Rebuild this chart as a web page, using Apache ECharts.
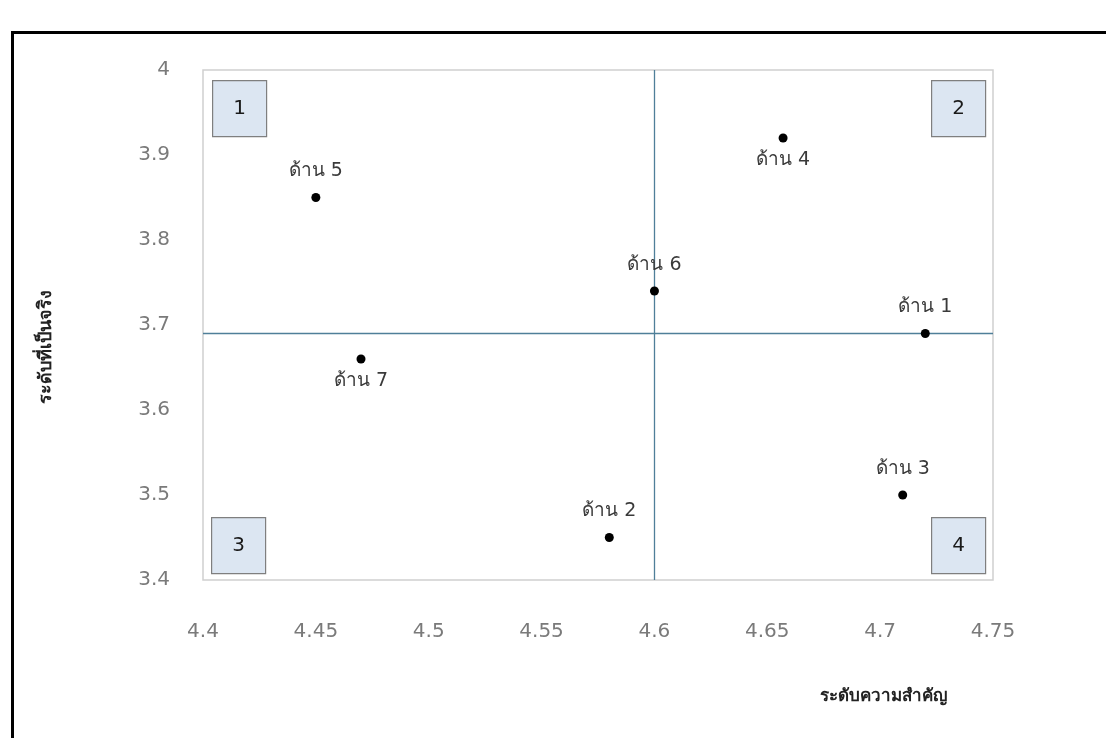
<!DOCTYPE html>
<html>
<head>
<meta charset="utf-8">
<script src="https://cdn.jsdelivr.net/npm/echarts@6/dist/echarts.min.js"></script>
<style>
  html, body { margin: 0; padding: 0; background: #fff; }
  #chart { width: 1106px; height: 738px; }
</style>
</head>
<body>
<div id="chart"></div>
<script>
var names = ['ด้าน 1', 'ด้าน 2', 'ด้าน 3', 'ด้าน 4', 'ด้าน 5', 'ด้าน 6', 'ด้าน 7'];
var importance = [4.72, 4.58, 4.71, 4.657, 4.45, 4.60, 4.47];
var actual = [3.69, 3.45, 3.50, 3.92, 3.85, 3.74, 3.66];
var labelPos = ['top', 'top', 'top', 'bottom', 'top', 'top', 'bottom'];
var quadrantX = 4.6;
var quadrantY = 3.69;
var quadrants = ['1', '2', '3', '4'];

(function() {
  var font = 'Tahoma, Verdana, "DejaVu Sans", sans-serif';
  var chart = echarts.init(document.getElementById('chart'), null, { renderer: 'canvas' });

  var points = names.map(function(n, i) {
    return {
      name: n,
      value: [importance[i], actual[i]],
      label: { position: labelPos[i], distance: labelPos[i] === 'top' ? 12 : 8 }
    };
  });

  // quadrant number boxes, placed at the plot corners
  var boxW = 54, boxH = 56;
  var boxSpots = [
    { left: 212, top: 80 }, { left: 931, top: 80 },
    { left: 211, top: 517 }, { left: 931, top: 517 }
  ];
  var boxes = quadrants.map(function(q, i) {
    return {
      type: 'group',
      left: boxSpots[i].left,
      top: boxSpots[i].top,
      children: [
        { type: 'rect', shape: { x: 0, y: 0, width: boxW, height: boxH },
          style: { fill: '#dce6f2', stroke: '#7f7f7f', lineWidth: 1.2 } },
        { type: 'text', x: boxW / 2, y: boxH / 2,
          style: { text: q, font: '20px ' + font, fill: '#1a1a1a', align: 'center', verticalAlign: 'middle' } }
      ]
    };
  });

  chart.setOption({
    animation: false,
    backgroundColor: '#fff',
    grid: {
      left: 203, right: 113, top: 70, bottom: 158,
      show: true, borderColor: '#d0d0d0', borderWidth: 1.5
    },
    xAxis: {
      type: 'value', min: 4.4, max: 4.75, interval: 0.05,
      axisLine: { show: false }, axisTick: { show: false }, splitLine: { show: false },
      axisLabel: { color: '#7a7a7a', fontSize: 20, fontFamily: font, margin: 42,
        formatter: function(v) { return String(+v.toFixed(2)); } }
    },
    yAxis: {
      type: 'value', min: 3.4, max: 4.0, interval: 0.1,
      name: 'ระดับที่เป็นจริง', nameLocation: 'middle', nameGap: 148,
      nameTextStyle: { color: '#222', fontSize: 18, fontWeight: 'bold', fontFamily: font, padding: [0, 44, 0, 0] },
      axisLine: { show: false }, axisTick: { show: false }, splitLine: { show: false },
      axisLabel: { color: '#7a7a7a', fontSize: 20, fontFamily: font, margin: 33,
        formatter: function(v) { return String(+v.toFixed(1)); } }
    },
    graphic: [
      { type: 'rect', left: 10, top: 30, silent: true,
        shape: { x: 0, y: 0, width: 1120, height: 740 },
        style: { fill: 'none', stroke: '#000', lineWidth: 3 } },
      { type: 'text', left: 820, top: 688,
        style: { text: 'ระดับความสำคัญ', font: 'bold 17px ' + font, fill: '#222' } }
    ].concat(boxes),
    series: [{
      type: 'scatter',
      data: points,
      symbolSize: 9,
      itemStyle: { color: '#000', opacity: 1 },
      label: { show: true, formatter: '{b}', color: '#3a3a3a', fontSize: 19, fontFamily: font },
      markLine: {
        silent: true, symbol: 'none',
        label: { show: false },
        lineStyle: { color: '#4f7f99', width: 1.3, type: 'solid', opacity: 1 },
        data: [{ xAxis: quadrantX }, { yAxis: quadrantY }]
      },
      z: 5
    }]
  });
  window.addEventListener('resize', function() { chart.resize(); });
})();
</script>
</body>
</html>
